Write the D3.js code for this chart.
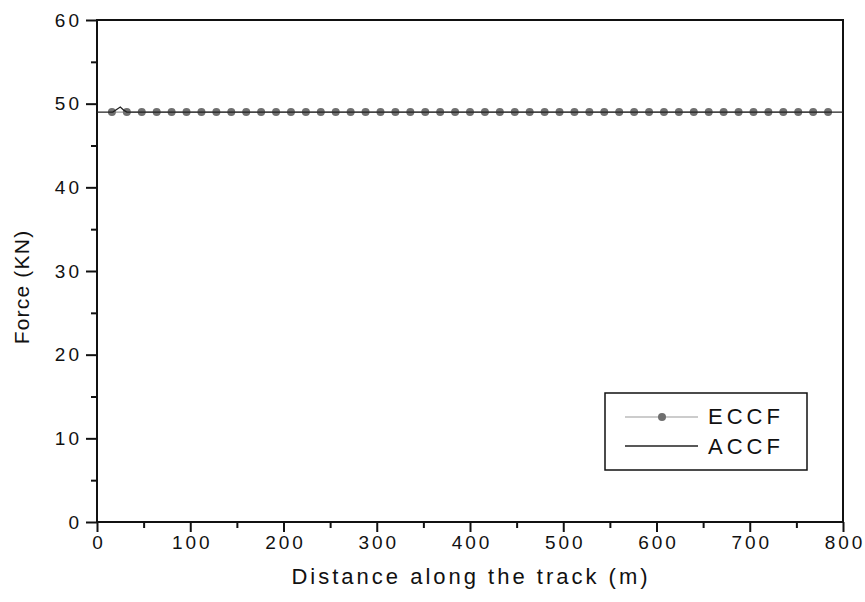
<html>
  <head>
    <meta charset="utf-8">
    <script type="text/javascript" src="https://cdn.jsdelivr.net/npm/d3@7"></script>
    <style>
      body { margin: 0; background: #fff; }
      text { font-family: "Liberation Sans", Arial, sans-serif; fill: #111; }
    </style>
  </head>
  <body>
  <div id="chart"></div>
  <script>
  // ECCF (marker points)
  var eccfDist = [16, 32, 48, 64, 80, 96, 112, 128, 144, 160, 176, 192, 208, 224, 240, 256, 272,
    288, 304, 320, 336, 352, 368, 384, 400, 416, 432, 448, 464, 480, 496, 512, 528, 544, 560,
    576, 592, 608, 624, 640, 656, 672, 688, 704, 720, 736, 752, 768, 784];
  var eccfForce = [49.0, 49.0, 49.0, 49.0, 49.0, 49.0, 49.0, 49.0, 49.0, 49.0, 49.0, 49.0, 49.0,
    49.0, 49.0, 49.0, 49.0, 49.0, 49.0, 49.0, 49.0, 49.0, 49.0, 49.0, 49.0, 49.0, 49.0, 49.0,
    49.0, 49.0, 49.0, 49.0, 49.0, 49.0, 49.0, 49.0, 49.0, 49.0, 49.0, 49.0, 49.0, 49.0, 49.0,
    49.0, 49.0, 49.0, 49.0, 49.0, 49.0];
  // ACCF (solid line)
  var accfDist = [0, 17, 21, 25, 29, 32, 800];
  var accfForce = [49.0, 49.0, 49.3, 49.6, 49.2, 49.0, 49.0];

  var xTicks = [0, 100, 200, 300, 400, 500, 600, 700, 800];
  var yTicks = [0, 10, 20, 30, 40, 50, 60];
  var seriesNames = ["ECCF", "ACCF"];

  var width = 865, height = 602;
  var margin = { "top": 20, "bottom": 80, "right": 22, "left": 97 };

  var eccf = eccfDist.map(function(d, i) { return { x: d, y: eccfForce[i] }; });
  var accf = accfDist.map(function(d, i) { return { x: d, y: accfForce[i] }; });

  var svg = d3.select("#chart").append("svg")
    .attr("width", width).attr("height", height);

  var xScale = d3.scaleLinear().domain([0, 800])
    .range([margin.left, width - margin.right]);
  var yScale = d3.scaleLinear().domain([0, 60])
    .range([height - margin.bottom, margin.top]);

  // minor ticks
  var xMinor = xTicks.slice(0, -1).map(function(d) { return d + 50; });
  var yMinor = yTicks.slice(0, -1).map(function(d) { return d + 5; });

  var axisx = d3.axisBottom(xScale).tickValues(xTicks).tickSize(10).tickPadding(4);
  var axisy = d3.axisLeft(yScale).tickValues(yTicks).tickSize(11).tickPadding(6);

  var gx = svg.append("g")
    .attr("transform", "translate(0," + (height - margin.bottom) + ")")
    .call(axisx);
  var gy = svg.append("g")
    .attr("transform", "translate(" + margin.left + ",0)")
    .call(axisy);

  svg.append("g")
    .attr("transform", "translate(0," + (height - margin.bottom) + ")")
    .call(d3.axisBottom(xScale).tickValues(xMinor).tickSize(6).tickFormat(""));
  svg.append("g")
    .attr("transform", "translate(" + margin.left + ",0)")
    .call(d3.axisLeft(yScale).tickValues(yMinor).tickSize(6).tickFormat(""));

  svg.selectAll(".domain").remove();
  svg.selectAll(".tick line").attr("stroke", "#111").attr("stroke-width", 2);

  gx.selectAll(".tick text")
    .attr("fill", "#111")
    .style("font-size", "19px")
    .attr("letter-spacing", "3px")
    .attr("dx", "1.5px");
  gy.selectAll(".tick text")
    .attr("fill", "#111")
    .style("font-size", "19px")
    .attr("letter-spacing", "3px")
    .attr("dx", "2px");

  // frame
  svg.append("rect")
    .attr("x", xScale(0)).attr("y", yScale(60))
    .attr("width", xScale(800) - xScale(0))
    .attr("height", yScale(0) - yScale(60))
    .attr("fill", "none")
    .attr("stroke", "#111")
    .attr("stroke-width", 2);

  var line = d3.line()
    .x(function(d) { return xScale(d.x); })
    .y(function(d) { return yScale(d.y); });

  // ECCF
  svg.append("path")
    .datum(eccf)
    .attr("fill", "none")
    .attr("stroke", "#999")
    .attr("stroke-width", 1.2)
    .attr("d", line);

  svg.append("g")
    .selectAll("circle")
    .data(eccf)
    .enter()
    .append("circle")
    .attr("cx", function(d) { return xScale(d.x); })
    .attr("cy", function(d) { return yScale(d.y); })
    .attr("fill", "#6f6f6f")
    .attr("r", 4);

  // ACCF
  svg.append("path")
    .datum(accf)
    .attr("fill", "none")
    .attr("stroke", "#222")
    .attr("stroke-width", 1.3)
    .attr("d", line);

  // axis titles
  svg.append("text")
    .attr("x", (xScale(0) + xScale(800)) / 2 + 1)
    .attr("y", 584)
    .attr("text-anchor", "middle")
    .style("font-size", "22px")
    .attr("letter-spacing", "3px")
    .text("Distance along the track (m)");

  svg.append("text")
    .attr("transform", "translate(29," + 287 + ") rotate(-90)")
    .attr("text-anchor", "middle")
    .style("font-size", "21px")
    .attr("letter-spacing", "1.2px")
    .text("Force (KN)");

  // legend
  var legend = svg.append("g").attr("transform", "translate(605,393)");
  legend.append("rect")
    .attr("width", 202).attr("height", 77)
    .attr("fill", "#fff")
    .attr("stroke", "#111")
    .attr("stroke-width", 1.5);

  legend.append("line")
    .attr("x1", 20).attr("x2", 93).attr("y1", 24).attr("y2", 24)
    .attr("stroke", "#999").attr("stroke-width", 1.2);
  legend.append("circle")
    .attr("cx", 57).attr("cy", 24).attr("r", 4).attr("fill", "#6f6f6f");
  legend.append("line")
    .attr("x1", 20).attr("x2", 93).attr("y1", 53).attr("y2", 53)
    .attr("stroke", "#222").attr("stroke-width", 1.3);

  legend.selectAll("text.lab")
    .data(seriesNames)
    .enter()
    .append("text")
    .attr("class", "lab")
    .attr("x", 103)
    .attr("y", function(d, i) { return 31 + i * 30; })
    .style("font-size", "22px")
    .attr("letter-spacing", "4px")
    .text(function(d) { return d; });
  </script>
  </body>
</html>
